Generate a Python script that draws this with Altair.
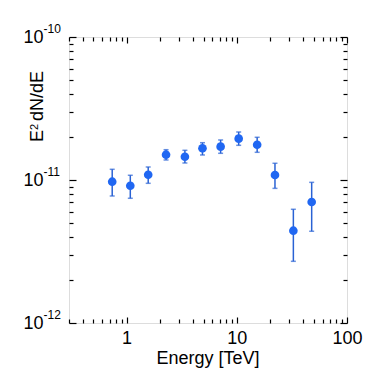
import altair as alt
import pandas as pd

# ---- data ----
energy = [0.74, 1.08, 1.57, 2.28, 3.38, 4.88, 7.13, 10.4, 15.3, 22.2, 32.6, 47.8]
flux = [9.73e-12, 9.12e-12, 1.089e-11, 1.503e-11, 1.455e-11, 1.666e-11,
        1.71e-11, 1.945e-11, 1.765e-11, 1.084e-11, 4.42e-12, 7.02e-12]
flux_hi = [1.188e-11, 1.079e-11, 1.233e-11, 1.629e-11, 1.613e-11, 1.823e-11,
           1.905e-11, 2.166e-11, 1.989e-11, 1.309e-11, 6.24e-12, 9.63e-12]
flux_lo = [7.73e-12, 7.45e-12, 9.48e-12, 1.380e-11, 1.315e-11, 1.496e-11,
           1.537e-11, 1.748e-11, 1.562e-11, 8.74e-12, 2.70e-12, 4.38e-12]

x_major = [1, 10, 100]
x_minor = [0.3, 0.4, 0.5, 0.6, 0.7, 0.8, 0.9,
           2, 3, 4, 5, 6, 7, 8, 9,
           20, 30, 40, 50, 60, 70, 80, 90]
y_major = [1e-12, 1e-11, 1e-10]
y_minor = [2e-12, 3e-12, 4e-12, 5e-12, 6e-12, 7e-12, 8e-12, 9e-12,
           2e-11, 3e-11, 4e-11, 5e-11, 6e-11, 7e-11, 8e-11, 9e-11]

x_title = "Energy [TeV]"
y_title_base = "E"
y_title_sup = "2"
y_title_rest = "dN/dE"

FONT = "Liberation Sans"
PT_COLOR = "#2067f2"
ERR_COLOR = "#2a62d4"

df = pd.DataFrame({"energy": energy, "flux": flux, "hi": flux_hi, "lo": flux_lo})

xs = alt.Scale(type="log", domain=[0.3, 100], nice=False)
ys = alt.Scale(type="log", domain=[1e-12, 1e-10], nice=False)


def ax(**kw):
    base = dict(grid=False, domain=False, labels=False, ticks=False, title=None,
                labelFlush=False, tickColor="black", tickWidth=1.2,
                labelColor="black", labelFont=FONT)
    base.update(kw)
    return alt.Axis(**base)


base = alt.Chart(df)

err = base.mark_rule(color=ERR_COLOR, strokeWidth=1.5).encode(
    x=alt.X("energy:Q", scale=xs, axis=ax(orient="bottom", labels=True, values=x_major,
                                          labelExpr="format(datum.value, 'd')",
                                          labelFontSize=18, labelPadding=6, tickSize=0)),
    y=alt.Y("lo:Q", scale=ys, axis=ax(orient="left", labels=True, values=y_major,
                                       labelExpr="'10'", labelFontSize=18,
                                       labelAlign="right", labelPadding=26, tickSize=0)),
    y2="hi:Q",
)

cap_hi = base.mark_tick(orient="horizontal", color=ERR_COLOR, size=5, thickness=1.5).encode(
    x=alt.X("energy:Q", scale=xs, axis=ax(orient="bottom", ticks=True, values=x_major,
                                          tickSize=6, offset=-6)),
    y=alt.Y("hi:Q", scale=ys, axis=ax(orient="left", labels=True, values=y_major,
                                       labelExpr="'-' + round(-log(datum.value) / LN10)",
                                       labelFontSize=12, labelAlign="left",
                                       labelPadding=26, labelOffset=-9, tickSize=0)),
)

cap_lo = base.mark_tick(orient="horizontal", color=ERR_COLOR, size=5, thickness=1.5).encode(
    x=alt.X("energy:Q", scale=xs, axis=ax(orient="bottom", ticks=True, values=x_minor,
                                          tickSize=4, offset=-4)),
    y=alt.Y("lo:Q", scale=ys, axis=ax(orient="left", ticks=True, values=y_major,
                                       tickSize=7, offset=-7)),
)

pts = base.mark_circle(color=PT_COLOR, size=75, opacity=1).encode(
    x=alt.X("energy:Q", scale=xs, axis=ax(orient="top", ticks=True, values=x_major,
                                          tickSize=6, offset=-6)),
    y=alt.Y("flux:Q", scale=ys, axis=ax(orient="left", ticks=True, values=y_minor,
                                         tickSize=4, offset=-4)),
)

ghost1 = base.mark_circle(opacity=0).encode(
    x=alt.X("energy:Q", scale=xs, axis=ax(orient="top", ticks=True, values=x_minor,
                                          tickSize=4, offset=-4)),
    y=alt.Y("flux:Q", scale=ys, axis=ax(orient="right", ticks=True, values=y_major,
                                         tickSize=7, offset=-7)),
)

ghost2 = base.mark_circle(opacity=0).encode(
    x=alt.X("energy:Q", scale=xs, axis=None),
    y=alt.Y("flux:Q", scale=ys, axis=ax(orient="right", ticks=True, values=y_minor,
                                         tickSize=4, offset=-4)),
)

tdf = pd.DataFrame({"t": [x_title]})
xt = alt.Chart(tdf).mark_text(font=FONT, fontSize=18, color="black", align="center",
                              baseline="alphabetic").encode(
    text="t:N", x=alt.value(139), y=alt.value(327))

t1 = alt.Chart(pd.DataFrame({"t": [y_title_base]})).mark_text(
    font=FONT, fontSize=18, color="black", angle=270, align="left", baseline="alphabetic"
).encode(text="t:N", x=alt.value(-26), y=alt.value(105))
t2 = alt.Chart(pd.DataFrame({"t": [y_title_sup]})).mark_text(
    font=FONT, fontSize=11, color="black", angle=270, align="left", baseline="alphabetic"
).encode(text="t:N", x=alt.value(-31), y=alt.value(93))
t3 = alt.Chart(pd.DataFrame({"t": [y_title_rest]})).mark_text(
    font=FONT, fontSize=18, color="black", angle=270, align="left", baseline="alphabetic"
).encode(text="t:N", x=alt.value(-26), y=alt.value(84))

chart = alt.layer(err, cap_hi, cap_lo, pts, ghost1, ghost2, xt, t1, t2, t3).resolve_axis(
    x="independent", y="independent"
).properties(
    width=278, height=286,
    autosize=alt.AutoSizeParams(type="none"),
    padding={"left": 61, "top": 29, "right": 20, "bottom": 55},
).configure_view(stroke="black", strokeWidth=3).configure(background="white")

chart.save("out.html", embed_options={"renderer": "svg", "actions": False})
